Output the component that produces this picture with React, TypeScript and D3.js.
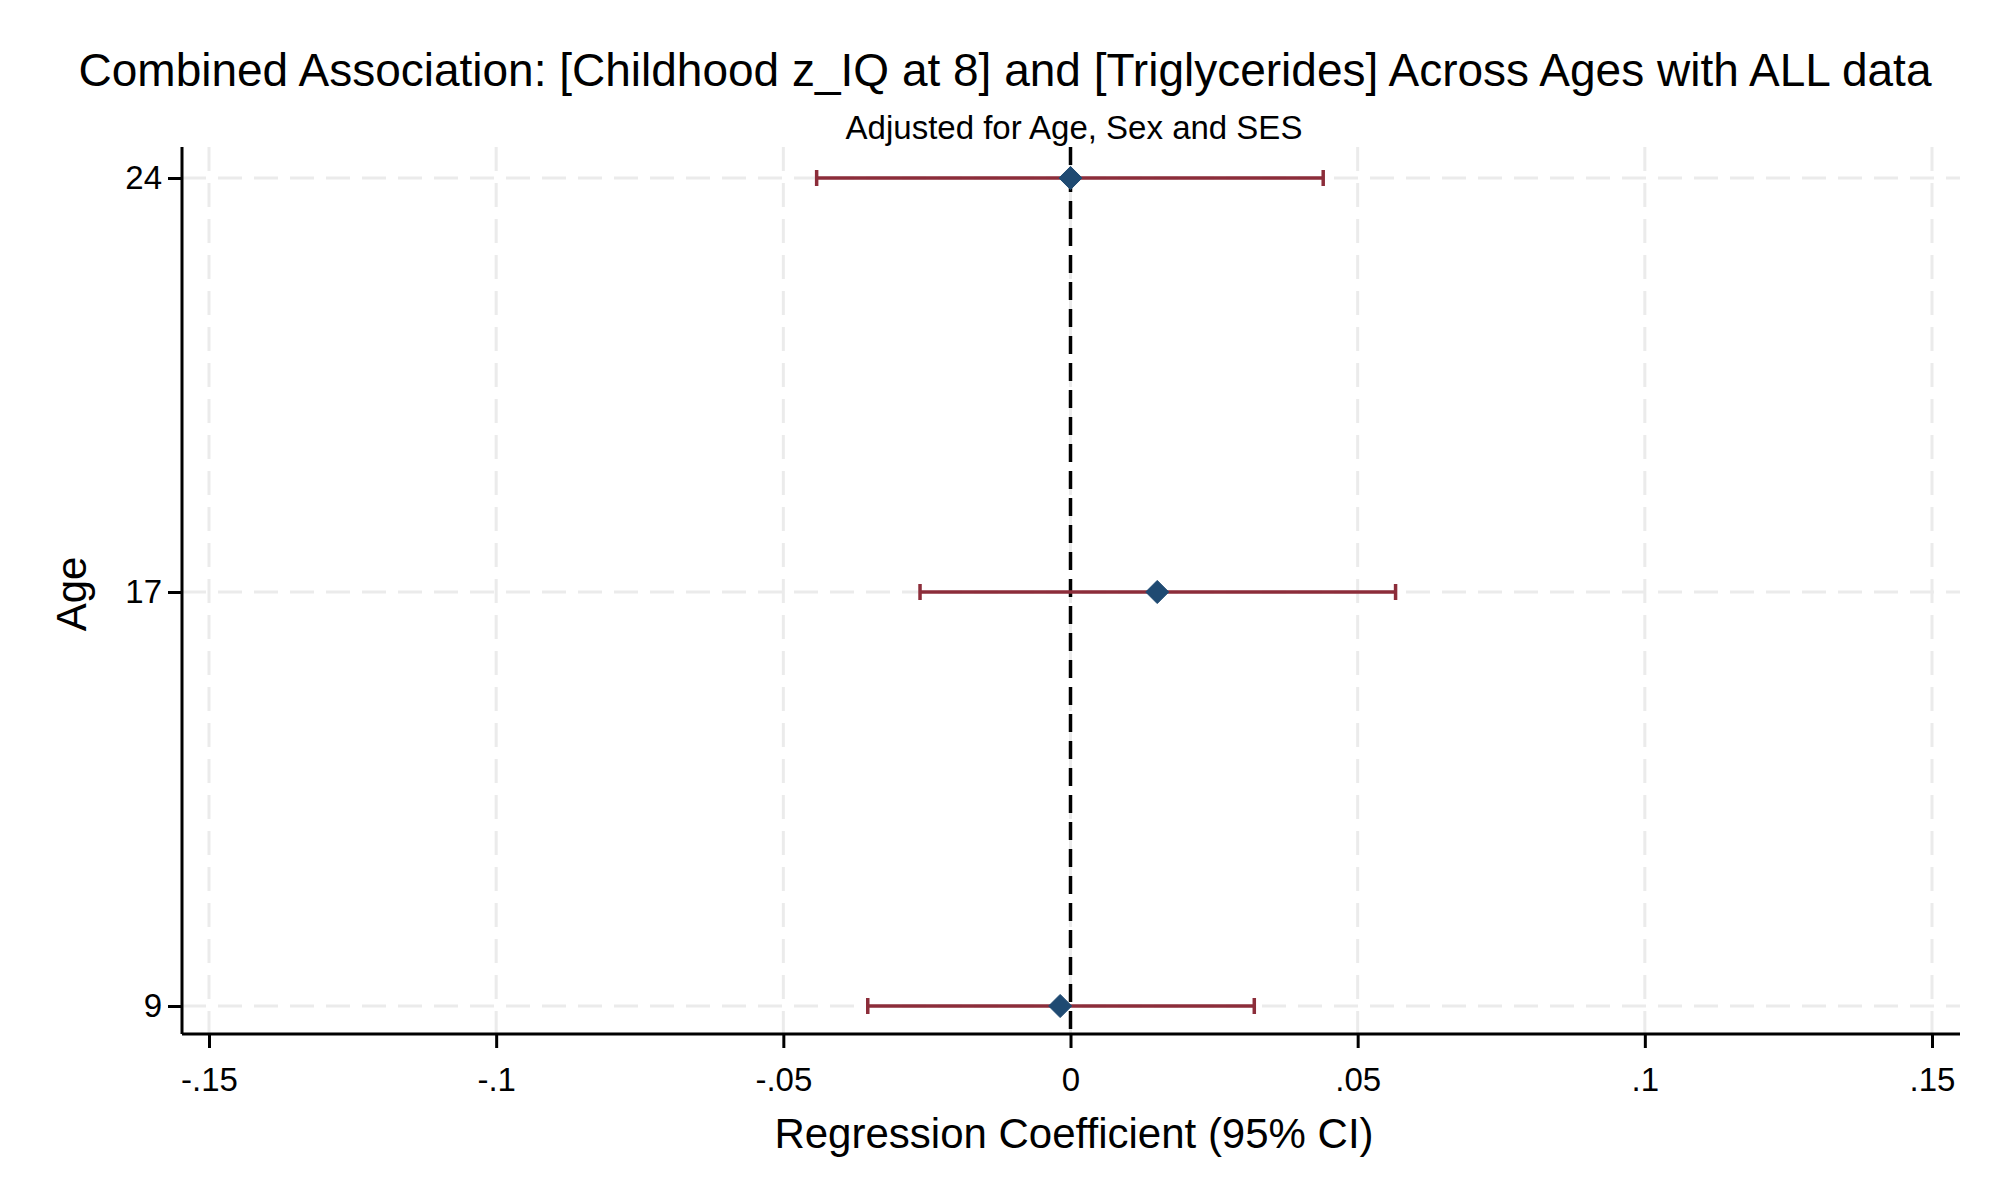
import React, { useEffect, useRef } from 'react';
import * as d3 from 'd3';

const ages: string[] = ['9', '17', '24'];
const coef: number[] = [-0.0018, 0.0151, 0.0];
const lower: number[] = [-0.0353, -0.0262, -0.0442];
const upper: number[] = [0.032, 0.0566, 0.044];
const xTicks: number[] = [-0.15, -0.1, -0.05, 0, 0.05, 0.1, 0.15];
const xTickLabels: string[] = ['-.15', '-.1', '-.05', '0', '.05', '.1', '.15'];

const App: React.FC = () => {
  const ref = useRef<SVGSVGElement | null>(null);

  useEffect(() => {
    if (!ref.current) return;
    const svg = d3.select(ref.current);
    svg.selectAll('*').remove();
    const font = 'Liberation Sans, Arial, sans-serif';

    const left = 182, right = 1960, top = 147, bottom = 1034;
    const x = d3.scaleLinear().domain([-0.15, 0.15]).range([209, 1932]);
    const y = d3.scalePoint<string>().domain(ages).range([1006, 178]);

    svg.append('rect').attr('width', 2000).attr('height', 1200).attr('fill', '#fff');

    // grid
    const grid = svg.append('g').attr('stroke', '#ebebeb').attr('stroke-width', 3).attr('stroke-dasharray', '24,12');
    xTicks.forEach((t) => {
      grid.append('line').attr('x1', x(t)).attr('x2', x(t)).attr('y1', top).attr('y2', bottom);
    });
    ages.forEach((a) => {
      grid.append('line').attr('x1', left).attr('x2', right).attr('y1', y(a)!).attr('y2', y(a)!);
    });

    // axes
    const xa = svg.append('g').attr('transform', `translate(0,${bottom})`)
      .call(d3.axisBottom(x).tickValues(xTicks).tickSize(14).tickFormat((_, i) => xTickLabels[i]));
    xa.select('.domain').attr('d', `M${left},0H${right}`).attr('stroke', '#000').attr('stroke-width', 3);
    xa.selectAll('line').attr('stroke-width', 3);
    xa.selectAll('text').attr('font-family', font).attr('font-size', 33).attr('fill', '#000').attr('dy', '1.2em');

    const ya = svg.append('g').attr('transform', `translate(${left},0)`)
      .call(d3.axisLeft(y).tickSize(14));
    ya.select('.domain').attr('d', `M0,${top}V${bottom}`).attr('stroke', '#000').attr('stroke-width', 3);
    ya.selectAll('line').attr('stroke-width', 3);
    ya.selectAll('text').attr('font-family', font).attr('font-size', 33).attr('fill', '#000').attr('x', -20);

    // zero reference
    svg.append('line').attr('x1', x(0)).attr('x2', x(0)).attr('y1', top).attr('y2', bottom)
      .attr('stroke', '#000').attr('stroke-width', 3.5).attr('stroke-dasharray', '18,9');

    // CIs
    const ci = svg.append('g').attr('stroke', '#8c2d3a').attr('stroke-width', 3.5);
    ages.forEach((a, i) => {
      const yy = y(a)!;
      ci.append('line').attr('x1', x(lower[i])).attr('x2', x(upper[i])).attr('y1', yy).attr('y2', yy);
      [lower[i], upper[i]].forEach((v) => {
        ci.append('line').attr('x1', x(v)).attr('x2', x(v)).attr('y1', yy - 8).attr('y2', yy + 8);
      });
    });

    // points
    svg.append('g').selectAll('path').data(ages).enter().append('path')
      .attr('d', d3.symbol(d3.symbolDiamond2, 340)())
      .attr('transform', (a, i) => `translate(${x(coef[i])},${y(a)})`)
      .attr('fill', '#1f4a72').attr('stroke', '#1f4a72').attr('stroke-width', 1);

    // titles
    svg.append('text').attr('x', 1005).attr('y', 86).attr('text-anchor', 'middle')
      .attr('font-family', font).attr('font-size', 46)
      .text('Combined Association: [Childhood z_IQ at 8] and [Triglycerides] Across Ages with ALL data');
    svg.append('text').attr('x', 1074).attr('y', 139).attr('text-anchor', 'middle')
      .attr('font-family', font).attr('font-size', 33).text('Adjusted for Age, Sex and SES');
    svg.append('text').attr('x', 1074).attr('y', 1148).attr('text-anchor', 'middle')
      .attr('font-family', font).attr('font-size', 42).text('Regression Coefficient (95% CI)');
    svg.append('text').attr('transform', 'translate(86,594) rotate(-90)').attr('text-anchor', 'middle')
      .attr('font-family', font).attr('font-size', 42).text('Age');
  }, []);

  return (
    <svg ref={ref} width={2000} height={1200}
      style={{ position: 'absolute', left: 0, top: 0, display: 'block' }} />
  );
};

export default App;
